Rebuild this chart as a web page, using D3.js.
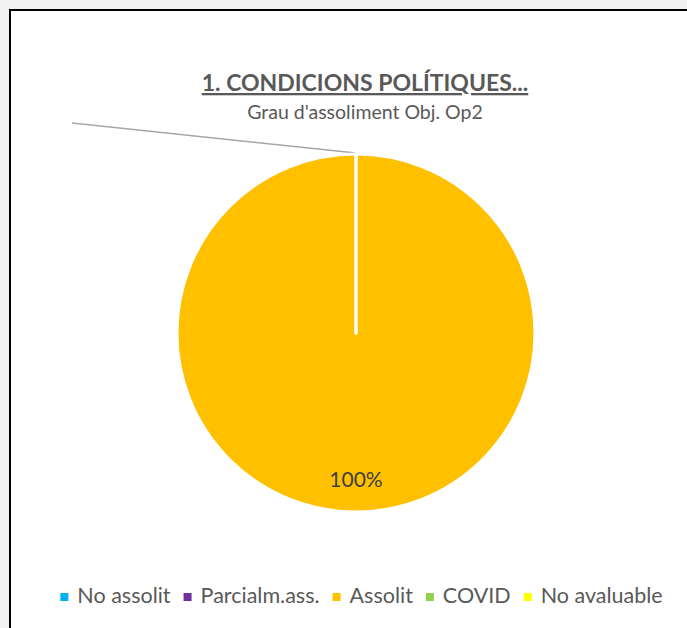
<!DOCTYPE html>
<html>
<head>
<meta charset="utf-8">
<script src="https://cdn.jsdelivr.net/npm/d3@7"></script>
<style>
  html, body { margin: 0; padding: 0; background: #f2f2f2; }
  svg { display: block; }
  text { font-family: Lato, "Open Sans", sans-serif; }
</style>
</head>
<body>
<svg id="chart" width="687" height="628"></svg>
<script>
// chart values
const categories = ["No assolit", "Parcialm.ass.", "Assolit", "COVID", "No avaluable"];
const values = [0, 0, 1, 0, 0];
const colors = ["#00b0f0", "#7030a0", "#ffc000", "#92d050", "#ffff00"];
const titleText = "1. CONDICIONS POLÍTIQUES...";
const subtitleText = "Grau d'assoliment Obj. Op2";

const W = 687, H = 628;
const cx = 356, cy = 333, radius = 179;

const svg = d3.select("#chart");

// chart area with border (runs off the right / bottom edge)
svg.append("rect")
  .attr("x", 10).attr("y", 10)
  .attr("width", W + 20).attr("height", H + 20)
  .attr("fill", "#fff")
  .attr("stroke", "#000")
  .attr("stroke-width", 2);

// titles
svg.append("text")
  .attr("x", 365).attr("y", 91)
  .attr("text-anchor", "middle")
  .attr("fill", "#595959")
  .style("font-size", "23px")
  .style("font-weight", "bold")
  .style("text-decoration", "underline")
  .text(titleText);

svg.append("text")
  .attr("x", 365).attr("y", 119)
  .attr("text-anchor", "middle")
  .attr("fill", "#595959")
  .style("font-size", "19.5px")
  .text(subtitleText);

const data = categories.map((c, i) => ({ name: c, value: values[i], color: colors[i] }));
const total = d3.sum(values);

const pie = d3.pie().sort(null).value(d => d.value);
const arc = d3.arc().innerRadius(0).outerRadius(radius);
const labelArc = d3.arc().innerRadius(radius * 0.82).outerRadius(radius * 0.82);

const g = svg.append("g").attr("transform", `translate(${cx},${cy})`);

const arcs = pie(data);

// leader line of the empty labels (zero slices sit at the top)
g.append("line")
  .attr("x1", -284).attr("y1", -210)
  .attr("x2", 0).attr("y2", -radius - 1)
  .attr("stroke", "#a6a6a6")
  .attr("stroke-width", 1.5);

g.selectAll("path.slice")
  .data(arcs)
  .join("path")
  .attr("class", "slice")
  .attr("d", arc)
  .attr("fill", d => d.data.color)
  .attr("stroke", "#fff")
  .attr("stroke-width", 3)
  .attr("stroke-linejoin", "round");

// percentage labels for non-zero slices
g.selectAll("text.lbl")
  .data(arcs.filter(d => d.data.value > 0))
  .join("text")
  .attr("class", "lbl")
  .attr("transform", d => `translate(${labelArc.centroid(d)})`)
  .attr("text-anchor", "middle")
  .attr("dy", "0.35em")
  .attr("fill", "#404040")
  .style("font-size", "21px")
  .text(d => d3.format(".0%")(d.data.value / total));

// legend
const legend = svg.append("g");
const sq = 8, gapText = 17, gapItem = 13;
let lx = 0;
categories.forEach((c, i) => {
  const item = legend.append("g").attr("transform", `translate(${lx},0)`);
  item.append("rect")
    .attr("x", 0).attr("y", -10)
    .attr("width", sq).attr("height", sq)
    .attr("fill", colors[i]);
  const t = item.append("text")
    .attr("x", gapText).attr("y", 0)
    .attr("fill", "#595959")
    .style("font-size", "21.5px")
    .text(c);
  lx += gapText + t.node().getComputedTextLength() + gapItem;
});
const legendW = lx - gapItem;
legend.attr("transform", `translate(${361.5 - legendW / 2},603)`);
</script>
</body>
</html>
